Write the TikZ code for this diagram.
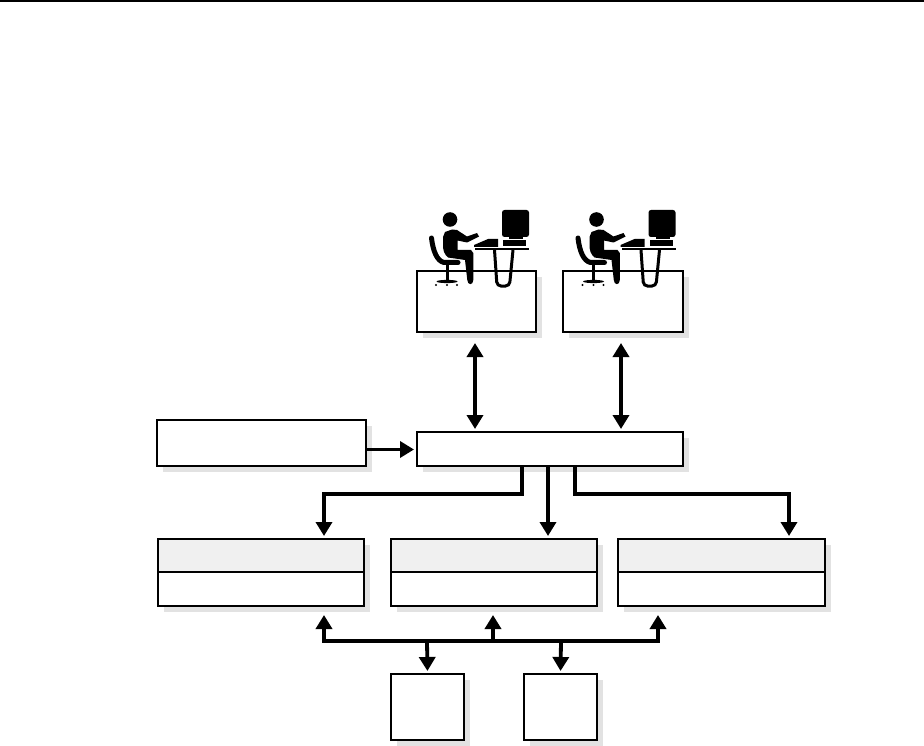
\documentclass[tikz,border=0pt]{standalone}
\usetikzlibrary{arrows.meta,shadows}
\definecolor{shadowgray}{HTML}{E2E2E2}
\definecolor{headgray}{HTML}{F0F0F0}
\tikzset{
  x=1pt,y=-1pt,
  box/.style={draw=black,line width=1.8pt,fill=white,inner sep=0pt,outer sep=0pt,anchor=north west,
    drop shadow={shadow xshift=6pt,shadow yshift=-6pt,fill=shadowgray,opacity=1}},
  headbox/.style={box,fill=headgray},
  flow/.style={draw=black,line width=3.8pt,line join=miter,-{Triangle[length=14pt,width=16pt]},shorten >=3pt},
  flowtwo/.style={draw=black,line width=3.8pt,{Triangle[length=14pt,width=16pt]}-{Triangle[length=14pt,width=16pt]},shorten >=3pt,shorten <=11pt},
  bus/.style={draw=black,line width=3.8pt,line join=miter},
  workstation/.pic={
    \fill (450,219.5) circle (7.3);
    % person
    \fill (443,237) -- (445,232) -- (452,229.5) -- (457,230) -- (467,236.5) -- (477,233) -- (479,236.5) -- (467,242.5) -- (457.5,240.5) -- (457.5,250) -- (471,250) -- (473.3,253) -- (473.3,280) .. controls (473.3,285.5) and (467.5,285.5) .. (467.3,280) -- (465,260) -- (448,257.5) .. controls (444,254) and (443,250) .. (443,245) -- cycle;
    % chair
    \draw[line width=5pt,line cap=round] (431.5,238) .. controls (433,251) and (437,261) .. (444,262.5) -- (458,262.5);
    \fill (445.5,264) rectangle (448.5,281);
    \fill (447,281.5) ellipse (10.5 and 1.6);
    \foreach \dotx in {436,447,457}{\fill (\dotx,285) circle (1.2);}
    % monitor
    \fill[rounded corners=2.5pt] (502,210) -- (529,210) -- (529,237) -- (502,237) -- cycle;
    \fill (509,237) rectangle (523,239);
    \fill (503,240) rectangle (526,246);
    % keyboard
    \fill (474,245) -- (488,239) -- (498,239) -- (498,247) -- (474,247) -- cycle;
    % desk
    \fill (475,248) rectangle (529,250.5);
    \draw[line width=3pt,rounded corners=4pt] (494.5,250) -- (497,286) -- (509.5,286) -- (513,250);
  }
}
\begin{document}
\begin{tikzpicture}
\useasboundingbox (0,0) rectangle (924,746);
\coordinate (ruleL) at (0,1);
\coordinate (ruleR) at (924,1);
\draw[line width=1.2pt] (ruleL) -- (ruleR);

\node[box,minimum width=119pt,minimum height=61pt] (desk1) at (417,271) {};
\node[box,minimum width=120pt,minimum height=61pt] (desk2) at (563,271) {};
\node[box,minimum width=209pt,minimum height=46pt] (input) at (157,420) {};
\node[box,minimum width=266pt,minimum height=34pt] (hub) at (417,432) {};

\node[headbox,minimum width=206pt,minimum height=33pt] (s1h) at (158,539) {};
\node[box,minimum width=206pt,minimum height=34pt] (s1) at (158,572) {};
\node[headbox,minimum width=206pt,minimum height=33pt] (s2h) at (391,539) {};
\node[box,minimum width=206pt,minimum height=34pt] (s2) at (391,572) {};
\node[headbox,minimum width=207pt,minimum height=33pt] (s3h) at (618,539) {};
\node[box,minimum width=207pt,minimum height=34pt] (s3) at (618,572) {};

\node[box,minimum width=73pt,minimum height=66pt] (d1) at (391,674) {};
\node[box,minimum width=73pt,minimum height=66pt] (d2) at (524,674) {};

\pic at (0,0) {workstation};
\pic at (146.5,0) {workstation};

% named anchor points
\coordinate (a1t) at (475,332);
\coordinate (a1b) at (475,432);
\coordinate (a2t) at (621,332);
\coordinate (a2b) at (621,432);
\coordinate (h1) at (522,466);
\coordinate (h2) at (548,466);
\coordinate (h3) at (575,466);
\coordinate (t1) at (324,539);
\coordinate (t2) at (548,539);
\coordinate (t3) at (789,539);
\coordinate (u1) at (324,606);
\coordinate (u2) at (493,606);
\coordinate (u3) at (658,606);
\coordinate (b2) at (493,641);
\coordinate (l1) at (427,641);
\coordinate (l2) at (561,641);

\draw[flowtwo] (a1t) -- (a1b);
\draw[flowtwo] (a2t) -- (a2b);
\draw[flow] (input.east |- 0,449.5) -- (hub.west |- 0,449.5);
\draw[flow] (h1) |- (324,494) -- (t1);
\draw[flow] (h2) -- (t2);
\draw[flow] (h3) |- (789,494) -- (t3);

% bus
\draw[bus,line cap=rect] (u1 |- b2) -- (u3 |- b2);
\draw[flow,shorten >=9pt] (u1 |- b2) -- (u1);
\draw[flow,shorten >=9pt] (b2) -- (u2);
\draw[flow,shorten >=9pt] (u3 |- b2) -- (u3);
\draw[flow] (l1) -- (d1.north);
\draw[flow] (l2) -- (d2.north);
\end{tikzpicture}
\end{document}
